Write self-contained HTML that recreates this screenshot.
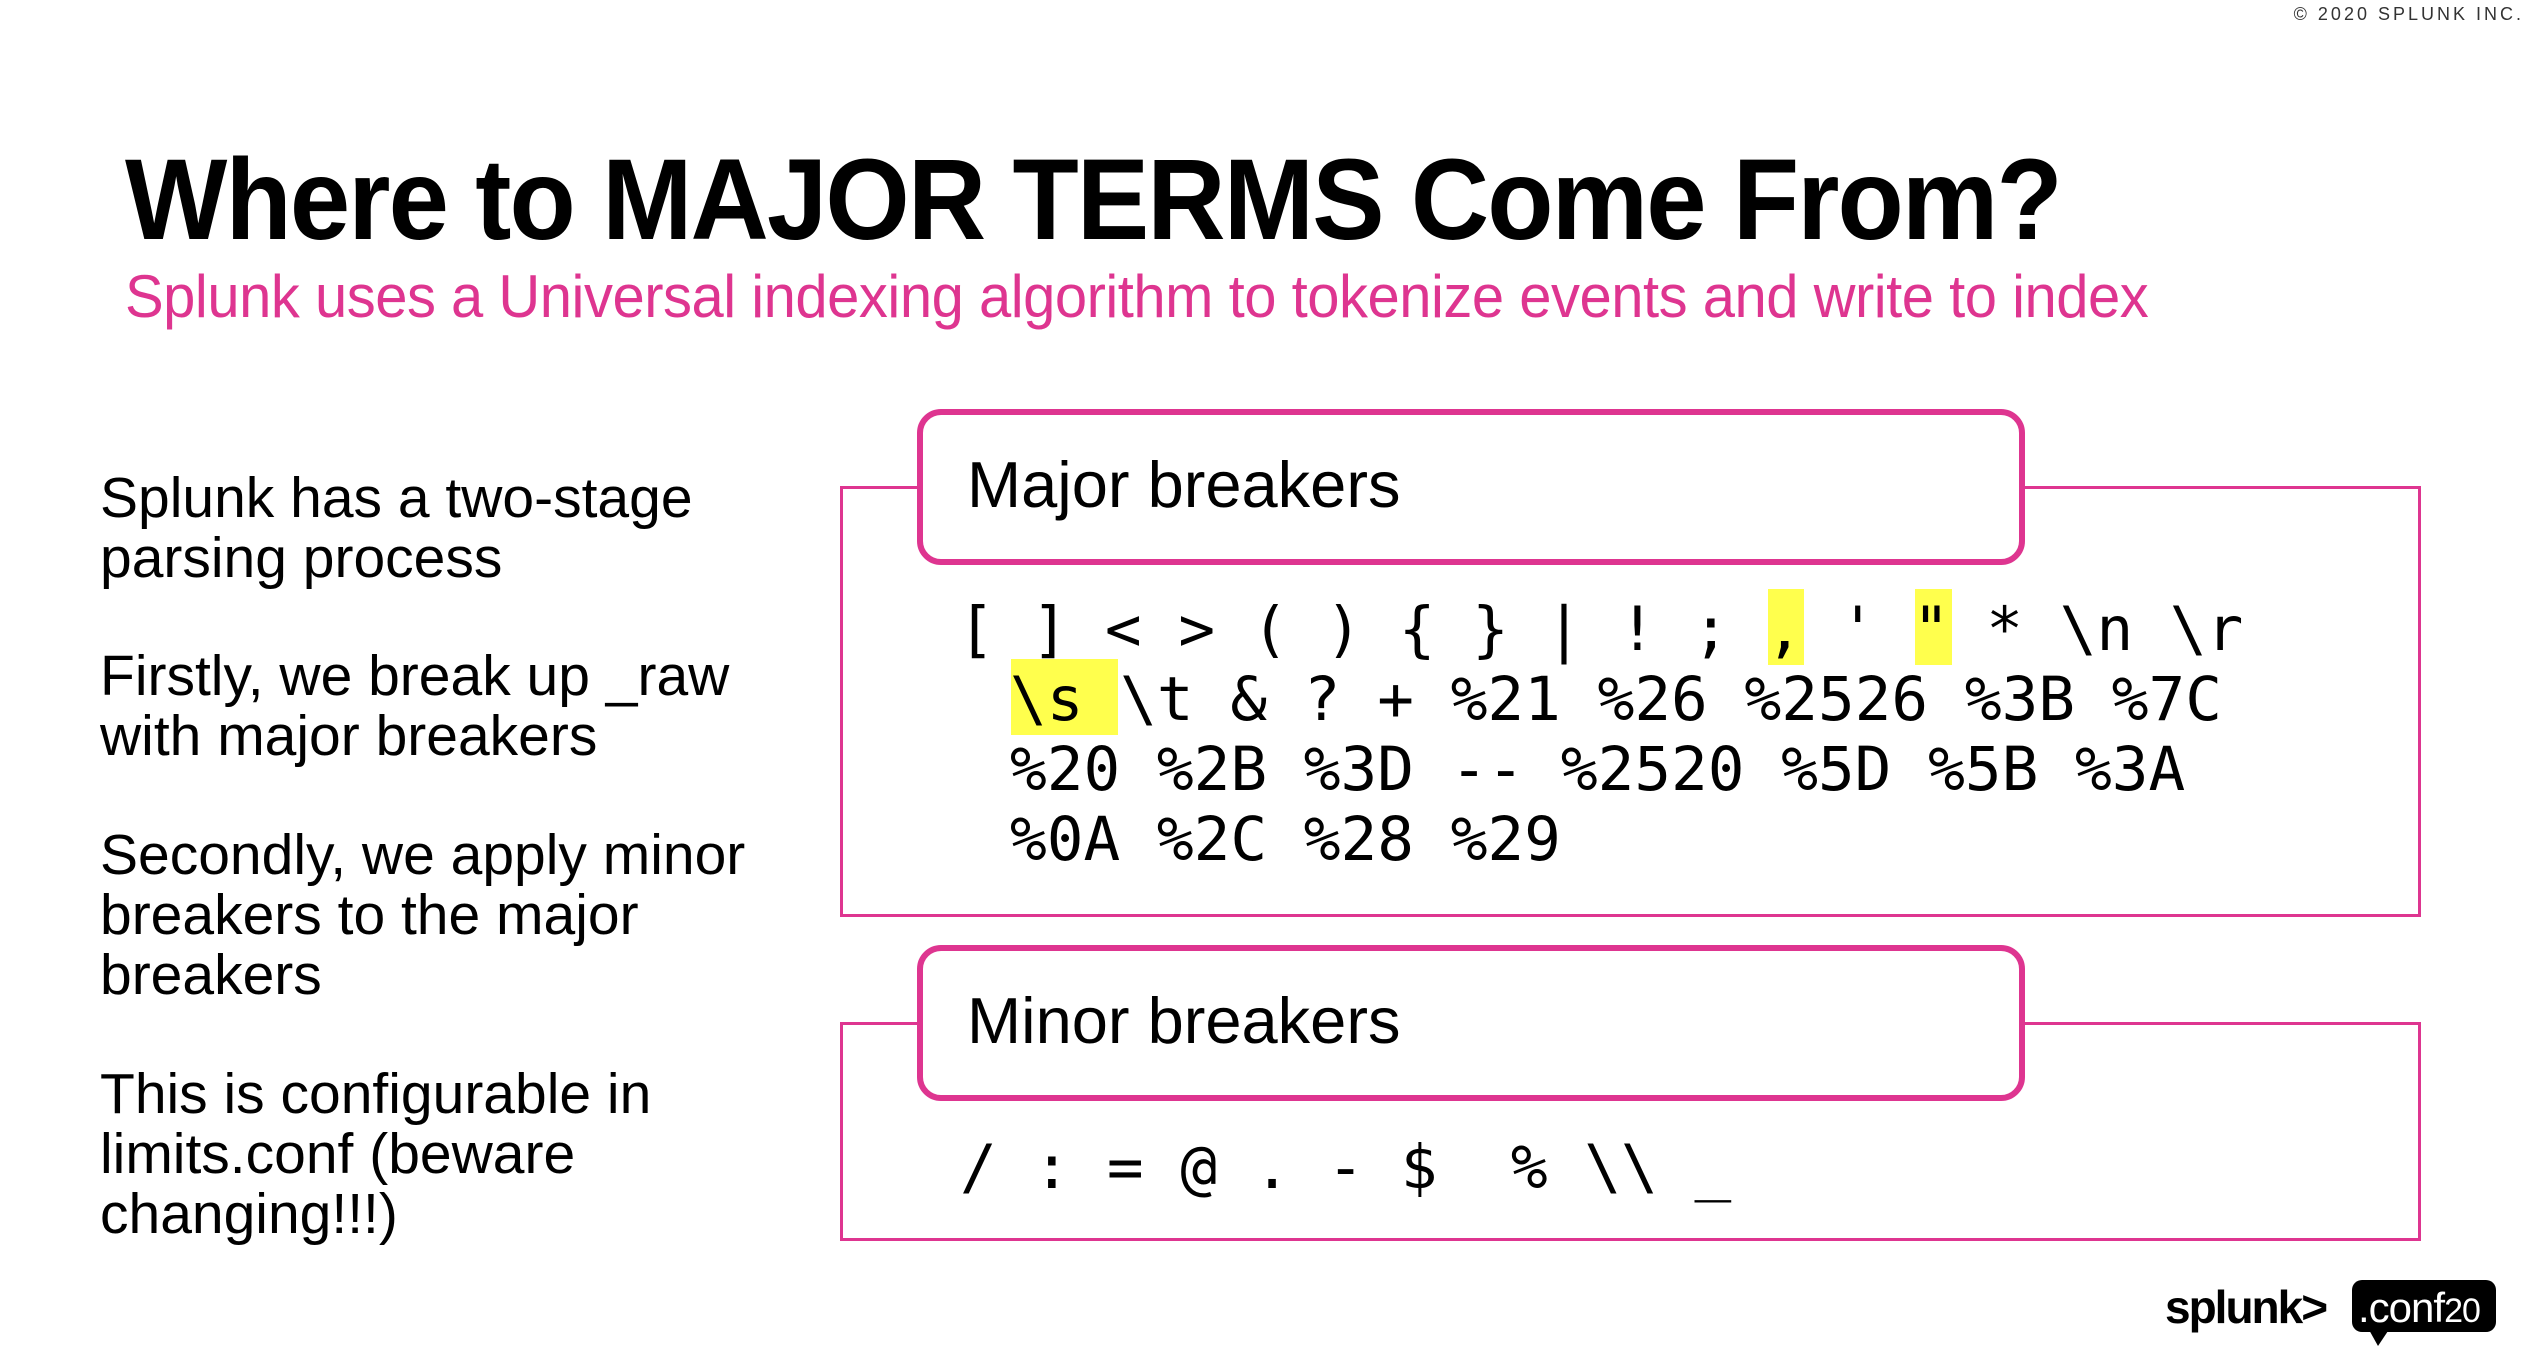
<!DOCTYPE html>
<html><head><meta charset="utf-8"><style>
html,body{margin:0;padding:0;background:#fff;}
body{width:2532px;height:1368px;position:relative;overflow:hidden;font-family:"Liberation Sans",Arial,sans-serif;color:#000;}
.a{position:absolute;white-space:pre;}
.title{left:125px;top:135px;font-size:115px;font-weight:bold;letter-spacing:-2px;line-height:130px;transform:scaleX(0.943);transform-origin:0 0;}
.sub{left:125px;top:262px;font-size:60px;color:#de3590;line-height:70px;letter-spacing:-0.5px;transform:scaleX(0.966);transform-origin:0 0;}
.copy{right:8px;top:4px;font-size:18px;letter-spacing:3px;color:#333;}
.left{left:100px;font-size:57px;line-height:60px;letter-spacing:0px;}
.outer{position:absolute;border:3px solid #de3590;box-sizing:border-box;background:#fff;}
.hdr{position:absolute;border:6px solid #de3590;border-radius:24px;box-sizing:border-box;background:#fff;}
.hdrt{position:absolute;font-size:65px;line-height:70px;}
.mono{font-family:"DejaVu Sans Mono","Liberation Mono",monospace;font-size:61px;line-height:70px;}
.hl{position:absolute;background:#ffff4d;}
</style></head><body>
<div class="a copy">© 2020 SPLUNK INC.</div>
<div class="a title">Where to MAJOR TERMS Come From?</div>
<div class="a sub">Splunk uses a Universal indexing algorithm to tokenize events and write to index</div>

<div class="a left" style="top:468px">Splunk has a two-stage
parsing process</div>
<div class="a left" style="top:646px">Firstly, we break up _raw
with major breakers</div>
<div class="a left" style="top:825px">Secondly, we apply minor
breakers to the major
breakers</div>
<div class="a left" style="top:1064px">This is configurable in
limits.conf (beware
changing!!!)</div>

<div class="outer" style="left:840px;top:486px;width:1581px;height:431px"></div>
<div class="hdr" style="left:917px;top:409px;width:1108px;height:156px"></div>
<div class="a hdrt" style="left:967px;top:450px">Major breakers</div>
<div class="hl" style="left:1768px;top:589px;width:36px;height:76px"></div>
<div class="hl" style="left:1915px;top:589px;width:37px;height:76px"></div>
<div class="hl" style="left:1011px;top:659px;width:107px;height:76px"></div>
<div class="a mono" style="left:958px;top:595px">[ ] &lt; &gt; ( ) { } | ! ; , ' " * \n \r</div>
<div class="a mono" style="left:1010px;top:665px">\s \t &amp; ? + %21 %26 %2526 %3B %7C
%20 %2B %3D -- %2520 %5D %5B %3A
%0A %2C %28 %29</div>

<div class="outer" style="left:840px;top:1022px;width:1581px;height:219px"></div>
<div class="hdr" style="left:917px;top:945px;width:1108px;height:156px"></div>
<div class="a hdrt" style="left:967px;top:986px">Minor breakers</div>
<div class="a mono" style="left:960px;top:1133px">/ : = @ . - $  % \\ _</div>

<div class="a" style="left:2165px;top:1280px;font-size:46px;letter-spacing:-2px;font-weight:bold">splunk&gt;</div>
<svg class="a" style="left:2350px;top:1278px" width="150" height="72" viewBox="0 0 150 72">
<rect x="2" y="2" width="144" height="52" rx="10" fill="#000"/>
<polygon points="18,50 40,50 28,68" fill="#000"/>
<text x="8" y="44" font-family="Liberation Sans, sans-serif" font-size="42" fill="#fff" letter-spacing="-1">.conf<tspan font-size="34">20</tspan></text>
</svg>
</body></html>
